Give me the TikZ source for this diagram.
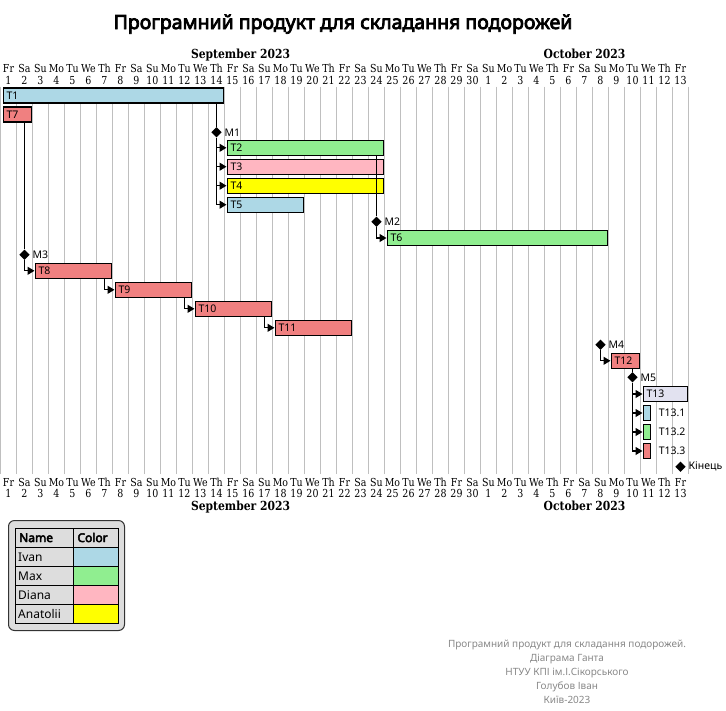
\documentclass[tikz,border=0pt]{standalone}
\usepackage{fontspec}
\setsansfont{Noto Sans}[BoldFont={Noto Sans}, BoldFeatures={FakeBold=4}]
\newfontfamily\datefont[FakeStretch=0.86]{DejaVu Serif}
\usepackage{tikz}
\usetikzlibrary{arrows.meta,positioning,shapes.geometric}

\tikzset{
  taskbar/.style={draw=black, line width=1.1pt, minimum height=15pt, inner xsep=3.5pt,
    inner ysep=0pt, anchor=west, align=left, font=\sffamily\fontsize{10.5}{12}\selectfont},
  milestone/.style={diamond, fill=black, inner sep=0pt, minimum size=10.5pt},
  mslabel/.style={font=\sffamily\fontsize{10.5}{12}\selectfont, inner sep=0pt, label distance=2.5pt},
  dep/.style={line width=1.1pt, -{Triangle[length=7pt,width=8pt]}},
  depline/.style={line width=1.1pt},
  gridline/.style={draw=black!25, line width=0.8pt},
  daytext/.style={font=\datefont\fontsize{11}{12}\selectfont, anchor=base, inner sep=0pt},
  monthtext/.style={font=\datefont\bfseries\fontsize{12.5}{14}\selectfont, anchor=base, inner sep=0pt},
}

% bar from day #3 to day #4 at height #5
\newcommand{\ganttbar}[6]{%
  \pgfmathsetmacro{\bx}{16*(#3-1)+2.5}
  \pgfmathsetmacro{\bw}{16*(#4-#3+1)-4}
  \pgfmathsetmacro{\tw}{\bw-7}
  \node[taskbar, fill=#6, text width=\tw pt] (#1) at (\bx,#5) {#2};
}

\begin{document}
\begin{tikzpicture}[x=1pt, y=-1pt, every node/.style={font=\sffamily}]
  \definecolor{ivanblue}{HTML}{ADD8E6}
  \definecolor{maxgreen}{HTML}{90EE90}
  \definecolor{dianapink}{HTML}{FFB6C1}
  \definecolor{anayellow}{HTML}{FFFF00}
  \definecolor{taskcoral}{HTML}{F08080}
  \definecolor{tasklav}{HTML}{E2E2F0}
  \definecolor{legendfill}{HTML}{DDDDDD}
  \definecolor{footgray}{HTML}{888888}

  \useasboundingbox (0,0) rectangle (726,710);

  % =================== title ===================
  \node[font=\sffamily\bfseries\fontsize{19.5}{22}\selectfont, anchor=base] (title)
    at (343,29) {Програмний продукт для складання подорожей};

  % =================== calendar grid ===================
  \foreach \d in {0,...,43}{
    \draw[gridline] (16*\d+0.5,86.5) -- (16*\d+0.5,474);
  }
  % day names and numbers, top and bottom
  \foreach \d in {1,...,43}{
    \pgfmathsetmacro{\dx}{16*(\d-1)+8.5}
    \pgfmathparse{{"Fr","Sa","Su","Mo","Tu","We","Th"}[mod(\d-1,7)]}
    \let\dname\pgfmathresult
    \pgfmathtruncatemacro{\dnum}{ifthenelse(\d>30,\d-30,\d)}
    \node[daytext] at (\dx,72.3) {\dname};
    \node[daytext] at (\dx,84.3) {\dnum};
    \node[daytext] at (\dx,486) {\dname};
    \node[daytext] at (\dx,497.5) {\dnum};
  }
  \node[monthtext] (septop) at (240.5,58) {September 2023};
  \node[monthtext] (octtop) at (584.5,58) {October 2023};
  \node[monthtext] (sepbot) at (240.5,510.5) {September 2023};
  \node[monthtext] (octbot) at (584.5,510.5) {October 2023};

  % =================== tasks ===================
  \ganttbar{T1}{T1}{1}{14}{95.5}{ivanblue}
  \ganttbar{T7}{T7}{1}{2}{114.5}{taskcoral}
  \ganttbar{T2}{T2}{15}{24}{147.8}{maxgreen}
  \ganttbar{T3}{T3}{15}{24}{166.7}{dianapink}
  \ganttbar{T4}{T4}{15}{24}{185.7}{anayellow}
  \ganttbar{T5}{T5}{15}{19}{204.7}{ivanblue}
  \ganttbar{T6}{T6}{25}{38}{238}{maxgreen}
  \ganttbar{T8}{T8}{3}{7}{270.8}{taskcoral}
  \ganttbar{T9}{T9}{8}{12}{289.8}{taskcoral}
  \ganttbar{T10}{T10}{13}{17}{308.8}{taskcoral}
  \ganttbar{T11}{T11}{18}{22}{327.8}{taskcoral}
  \ganttbar{T12}{T12}{39}{40}{360.8}{taskcoral}
  \ganttbar{T13}{T13}{41}{43}{394}{tasklav}

  % short sub-tasks, label outside
  \node[taskbar, fill=ivanblue, minimum width=7pt, inner xsep=0pt] (T131) at (642.5,413) {};
  \node[taskbar, fill=maxgreen, minimum width=7pt, inner xsep=0pt] (T132) at (642.5,432) {};
  \node[taskbar, fill=taskcoral, minimum width=7pt, inner xsep=0pt] (T133) at (642.5,451) {};
  \foreach \t/\l in {T131/T13.1, T132/T13.2, T133/T13.3}{
    \node[font=\sffamily\fontsize{10.5}{12}\selectfont, inner sep=0pt, right=8pt of \t] {\l};
  }

  % =================== milestones ===================
  \node[milestone, label={[mslabel]right:M1}] (M1) at (216.5,132.3) {};
  \node[milestone, label={[mslabel]right:M2}] (M2) at (376.5,221.7) {};
  \node[milestone, label={[mslabel]right:M3}] (M3) at (24.5,254.7) {};
  \node[milestone, label={[mslabel]right:M4}] (M4) at (600.5,344.7) {};
  \node[milestone, label={[mslabel]right:M5}] (M5) at (632.5,377.3) {};
  \node[milestone, label={[mslabel]right:Кінець}] (End) at (680.5,466.7) {};

  % =================== dependencies ===================
  \draw[depline] (M1 |- T1.south) -- (M1);
  \foreach \t in {T2,T3,T4,T5}{
    \draw[dep] (M1) |- (\t.west);
  }
  \foreach \t in {T2,T3,T4}{
    \draw[depline] (M2 |- \t.south) -- (M2);
  }
  \draw[dep] (M2) |- (T6.west);
  \draw[depline] (M3 |- T7.south) -- (M3);
  \draw[dep] (M3) |- (T8.west);
  \draw[dep] ([xshift=-7pt]T8.south east) |- (T9.west);
  \draw[dep] ([xshift=-7pt]T9.south east) |- (T10.west);
  \draw[dep] ([xshift=-7pt]T10.south east) |- (T11.west);
  \draw[dep] (M4) |- (T12.west);
  \draw[depline] (M5 |- T12.south) -- (M5);
  \foreach \t in {T13,T131,T132,T133}{
    \draw[dep] (M5) |- (\t.west);
  }

  % =================== legend ===================
  \draw[fill=legendfill, draw=black!80, line width=1pt, rounded corners=6pt]
    (8.5,520.5) rectangle (124.5,630.5);
  \foreach \c/\y in {ivanblue/547.7, maxgreen/566.7, dianapink/585.7, anayellow/604.7}{
    \fill[\c] (73.3,\y) rectangle (118.7,\y+19);
  }
  \foreach \y in {528.3,547.7,566.7,585.7,604.7,623.5}{
    \draw[line width=0.9pt] (15,\y) -- (118.7,\y);
  }
  \foreach \x in {15,73.3,118.7}{
    \draw[line width=0.9pt] (\x,528.3) -- (\x,623.5);
  }
  \node[font=\sffamily\bfseries\fontsize{12}{14}\selectfont, anchor=base west, inner sep=0pt]
    (legname) at (19,542) {Name};
  \node[font=\sffamily\bfseries\fontsize{12}{14}\selectfont, anchor=base west, inner sep=0pt]
    (legcolor) at (77.3,542) {Color};
  \foreach \n/\y in {Ivan/561, Max/580, Diana/599, Anatolii/618}{
    \node[font=\sffamily\fontsize{12}{14}\selectfont, anchor=base west, inner sep=0pt]
      at (18,\y) {\n};
  }

  % =================== footer ===================
  \node[font=\sffamily\fontsize{10}{14}\selectfont, text=footgray, align=center,
    anchor=north, inner sep=0pt] (footer) at (567,640)
    {Програмний продукт для складання подорожей.\\Діаграма Ганта\\НТУУ КПІ ім.І.Сікорського\\Голубов Іван\\Київ-2023};
\end{tikzpicture}
\end{document}
